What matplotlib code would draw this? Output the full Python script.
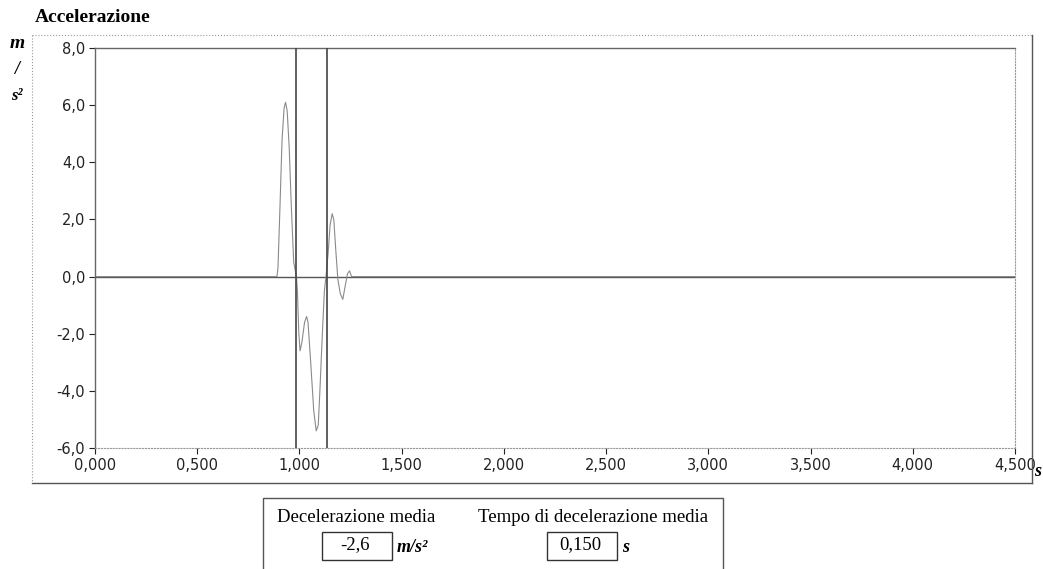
import matplotlib.pyplot as plt
from matplotlib.lines import Line2D
from matplotlib.patches import Rectangle
from matplotlib.ticker import FuncFormatter

# accelerometer trace (time in s, accel in m/s^2)
time_s = [0.0, 0.89, 0.895, 0.905, 0.915, 0.925, 0.932, 0.94, 0.95, 0.96, 0.972, 0.985,
          0.99, 0.997, 1.003, 1.012, 1.025, 1.035, 1.042, 1.055, 1.07, 1.082, 1.092,
          1.10, 1.112, 1.122, 1.13, 1.14, 1.15, 1.16, 1.168, 1.178, 1.188, 1.20, 1.212,
          1.222, 1.235, 1.245, 1.255, 4.5]
accel = [0.0, 0.0, 0.3, 2.5, 4.8, 5.9, 6.1, 5.8, 4.5, 2.5, 0.5, 0.0,
         -0.5, -2.0, -2.6, -2.3, -1.6, -1.4, -1.6, -3.0, -4.7, -5.4, -5.2,
         -4.0, -2.0, -0.5, 0.0, 0.8, 1.8, 2.2, 2.0, 0.9, -0.1, -0.6, -0.8,
         -0.4, 0.1, 0.2, 0.0, 0.0]

cursors = [0.985, 1.135]
x_ticks = [0.0, 0.5, 1.0, 1.5, 2.0, 2.5, 3.0, 3.5, 4.0, 4.5]
y_ticks = [-6, -4, -2, 0, 2, 4, 6, 8]
mean_decel = "-2,6"
mean_time = "0,150"

plt.rcParams["axes.unicode_minus"] = False

W, H = 1043, 569
fig = plt.figure(figsize=(W / 100, H / 100), dpi=100)

def fx(px):
    return px / W

def fy(py):
    return 1 - py / H

ax = fig.add_axes([fx(95), fy(448), fx(1015) - fx(95), fy(48) - fy(448)])

ax.axhline(0, color="#555555", lw=1.0, zorder=1)
ax.plot(time_s, accel, color="#8a8a8a", lw=0.8, zorder=2)
for c in cursors:
    ax.axvline(c, color="#444444", lw=1.2, zorder=3)

ax.set_xlim(0, 4.5)
ax.set_ylim(-6, 8)
ax.set_xticks(x_ticks)
ax.set_yticks(y_ticks)
ax.xaxis.set_major_formatter(FuncFormatter(lambda v, p: f"{v:.3f}".replace(".", ",")))
ax.yaxis.set_major_formatter(FuncFormatter(lambda v, p: f"{v:.1f}".replace(".", ",")))
ax.tick_params(labelsize=10.5, colors="#222222", length=4, width=0.8, pad=3)
for side in ["top", "left"]:
    ax.spines[side].set_color("#666666")
    ax.spines[side].set_linewidth(1.0)
for side in ["bottom", "right"]:
    ax.spines[side].set_color("#999999")
    ax.spines[side].set_linestyle(":")
    ax.spines[side].set_linewidth(0.8)

# outer frame of the graph panel
fig.add_artist(Line2D([fx(32), fx(1032)], [fy(35), fy(35)], color="#999999", lw=0.8, ls=":"))
fig.add_artist(Line2D([fx(32), fx(32)], [fy(35), fy(483)], color="#999999", lw=0.8, ls=":"))
fig.add_artist(Line2D([fx(1032), fx(1032)], [fy(35), fy(483)], color="#555555", lw=1.0))
fig.add_artist(Line2D([fx(32), fx(1032)], [fy(483), fy(483)], color="#555555", lw=1.0))

serif = "Liberation Serif"
fig.text(fx(35), fy(18), "Accelerazione", family=serif, weight="bold", fontsize=14,
         ha="left", va="center")
fig.text(fx(17), fy(43), "m", family=serif, weight="bold", style="italic", fontsize=14,
         ha="center", va="center")
fig.text(fx(17), fy(70), "/", family=serif, weight="bold", style="italic", fontsize=13,
         ha="center", va="center")
fig.text(fx(17), fy(96), "s²", family=serif, weight="bold", style="italic", fontsize=12,
         ha="center", va="center")
fig.text(fx(1038), fy(471), "s", family=serif, weight="bold", style="italic", fontsize=13,
         ha="center", va="center")

# result panel below the graph
fig.add_artist(Rectangle((fx(263), fy(580)), fx(723) - fx(263), fy(498) - fy(580),
                         transform=fig.transFigure, fill=False, ec="#555555", lw=1.0))
fig.text(fx(356), fy(518), "Decelerazione media", family=serif, fontsize=13.5,
         ha="center", va="center")
fig.text(fx(593), fy(518), "Tempo di decelerazione media", family=serif, fontsize=13.5,
         ha="center", va="center")

fig.add_artist(Rectangle((fx(322), fy(560)), fx(392) - fx(322), fy(532) - fy(560),
                         transform=fig.transFigure, fill=False, ec="#333333", lw=1.0))
fig.text(fx(355), fy(545), mean_decel, family=serif, fontsize=13.5, ha="center", va="center")
fig.text(fx(397), fy(547), "m/s²", family=serif, weight="bold", style="italic", fontsize=13,
         ha="left", va="center")

fig.add_artist(Rectangle((fx(547), fy(560)), fx(617) - fx(547), fy(532) - fy(560),
                         transform=fig.transFigure, fill=False, ec="#333333", lw=1.0))
fig.text(fx(580), fy(545), mean_time, family=serif, fontsize=13.5, ha="center", va="center")
fig.text(fx(626), fy(548), "s", family=serif, weight="bold", style="italic", fontsize=13,
         ha="center", va="center")

fig.savefig("out.png", dpi=100)
